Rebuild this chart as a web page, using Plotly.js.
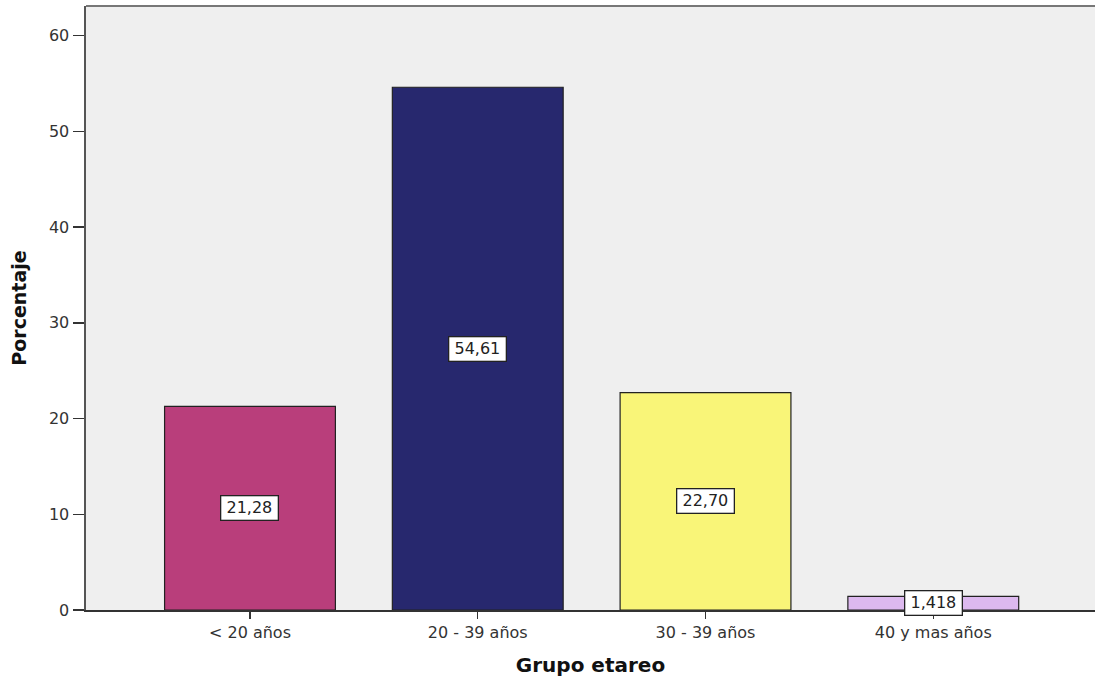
<!DOCTYPE html>
<html><head><meta charset="utf-8">
<script src="https://cdn.plot.ly/plotly-3.0.1.min.js"></script>
<style>html,body{margin:0;padding:0;background:#fff}</style>
</head><body>
<div id="chart" style="width:1095px;height:683px"></div>
<script>
const categories = ["< 20 años", "20 - 39 años", "30 - 39 años", "40 y mas años"];
const values = [21.28, 54.61, 22.70, 1.418];
const labels = ["21,28", "54,61", "22,70", "1,418"];
const colors = ["#B93E7B", "#27286E", "#F9F578", "#DDB9EF"];
const FONT = "DejaVu Sans, Verdana, sans-serif";

const trace = {
  type: "bar",
  x: [0, 1, 2, 3],
  y: values,
  width: 0.75,
  marker: {color: colors, line: {color: "#222", width: 1.2}},
  hoverinfo: "none"
};

const annotations = values.map((v, i) => ({
  x: i, y: v / 2, xref: "x", yref: "y",
  text: "\u2009" + labels[i] + "\u2009", showarrow: false,
  font: {family: FONT, size: 16, color: "#222"},
  bgcolor: "#ffffff", bordercolor: "#222", borderwidth: 1.3, borderpad: 2
}));

const layout = {
  width: 1095, height: 683,
  margin: {l: 86, r: 0, t: 6, b: 73},
  paper_bgcolor: "#ffffff",
  plot_bgcolor: "#EFEFEF",
  showlegend: false,
  bargap: 0.25,
  xaxis: {
    range: [-0.72, 3.71],
    tickmode: "array", tickvals: [0, 1, 2, 3], ticktext: categories,
    ticks: "outside", ticklen: 7, tickcolor: "#333", tickwidth: 1.2,
    showgrid: false, zeroline: false,
    showline: true, linecolor: "#333", linewidth: 1.5,
    tickfont: {family: FONT, size: 16, color: "#333"},
    title: {text: "<b>Grupo etareo</b>", standoff: 17,
      font: {family: FONT, size: 20, color: "#111"}}
  },
  yaxis: {
    range: [0, 63.1],
    tickvals: [0, 10, 20, 30, 40, 50, 60],
    ticks: "outside", ticklen: 11, tickcolor: "#333", tickwidth: 1.5,
    showgrid: false, zeroline: false,
    showline: true, linecolor: "#555", linewidth: 2.5,
    tickfont: {family: FONT, size: 16, color: "#333"},
    title: {text: "<b>Porcentaje</b>", standoff: 18,
      font: {family: FONT, size: 19, color: "#111"}}
  },
  shapes: [{type: "line", xref: "paper", yref: "paper", x0: 0, x1: 1, y0: 1, y1: 1,
    line: {color: "#777", width: 2}}],
  annotations: annotations
};

Plotly.newPlot("chart", [trace], layout, {displayModeBar: false, staticPlot: true});
</script>
</body></html>
